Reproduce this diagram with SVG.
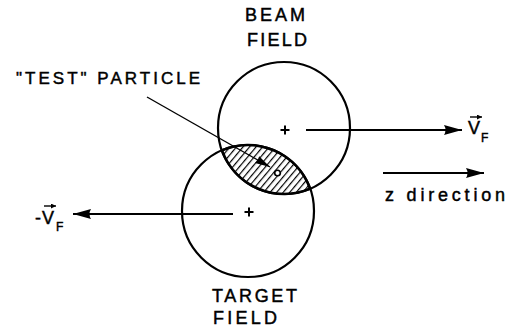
<svg xmlns="http://www.w3.org/2000/svg" width="511" height="331" viewBox="0 0 511 331">
<style>
text{font-family:"Liberation Sans",Arial,sans-serif;fill:#000;stroke:#000;stroke-width:0.45}
.lbl{font-size:18px}
.circ{fill:none;stroke:#000;stroke-width:2.2}
.ln{stroke:#000;stroke-width:1.8;fill:none}
.thin{stroke:#000;stroke-width:1.4;fill:none}
.plus{stroke:#000;stroke-width:2;fill:none}
</style>
<defs>
<marker id="ah" markerUnits="userSpaceOnUse" markerWidth="20" markerHeight="12" refX="18" refY="5.5" orient="auto" viewBox="0 0 20 12">
<path d="M0,0.5 L18,5.5 L0,10.5 Q3,5.5 0,0.5 Z" fill="#000"/>
</marker>
<marker id="ahs" markerUnits="userSpaceOnUse" markerWidth="18" markerHeight="10" refX="15" refY="5" orient="auto" viewBox="0 0 18 10">
<path d="M0,1 L15,5 L0,9 Q2,5 0,1 Z" fill="#000"/>
</marker>
<marker id="vh" markerUnits="userSpaceOnUse" markerWidth="8" markerHeight="6" refX="5" refY="2.5" orient="auto" viewBox="0 0 8 6">
<path d="M0,0 L5,2.5 L0,5 Z" fill="#000"/>
</marker>
<pattern id="hatch" patternUnits="userSpaceOnUse" width="5" height="5" patternTransform="rotate(40)">
<line x1="0" y1="0" x2="0" y2="5" stroke="#000" stroke-width="2.4"/>
</pattern>
</defs>

<g id="overlap">
<path d="M222,150.4 A66,66 0 0,1 310,188.6 A66,66 0 0,1 222,150.4 Z" fill="url(#hatch)" stroke="#000" stroke-width="2.6"/>
</g>

<g id="beam-field">
<circle class="circ" cx="284" cy="128" r="66"/>
<path class="plus" d="M280.5,130 H289.5 M285,125.5 V134.5"/>
<text class="lbl" x="245" y="21" textLength="60" lengthAdjust="spacing">BEAM</text>
<text class="lbl" x="247" y="46" textLength="60" lengthAdjust="spacing">FIELD</text>
</g>

<g id="target-field">
<circle class="circ" cx="248" cy="211" r="66"/>
<path class="plus" d="M244.5,212 H253.5 M249,207.5 V216.5"/>
<text class="lbl" x="212" y="302" textLength="85" lengthAdjust="spacing">TARGET</text>
<text class="lbl" x="213" y="324" textLength="64" lengthAdjust="spacing">FIELD</text>
</g>

<g id="test-particle">
<text style="font-size:17px" x="16" y="84" textLength="184" lengthAdjust="spacing">"TEST" PARTICLE</text>
<circle cx="277.5" cy="173" r="2.8" fill="#fff" stroke="#000" stroke-width="1.6"/>
</g>

<g id="v-right">
<text style="font-size:18px" x="468" y="134">V</text>
<text style="font-size:12px" x="481" y="142">F</text>
<line class="thin" x1="470" y1="117" x2="482" y2="117" marker-end="url(#vh)"/>
</g>

<g id="v-left">
<text style="font-size:18px" x="35" y="224">-</text>
<text style="font-size:18px" x="42" y="224">V</text>
<text style="font-size:12px" x="56" y="231">F</text>
<line class="thin" x1="44" y1="206" x2="56" y2="206" marker-end="url(#vh)"/>
</g>

<g id="z-direction">
<text class="lbl" x="385" y="201" textLength="120" lengthAdjust="spacing">z direction</text>
</g>

<g id="connectors">
<line class="ln" x1="306" y1="130" x2="462" y2="130" marker-end="url(#ah)"/>
<line class="ln" x1="233" y1="214" x2="73" y2="214" marker-end="url(#ah)"/>
<line class="ln" x1="383" y1="173" x2="484" y2="173" marker-end="url(#ah)"/>
<line class="thin" x1="147" y1="97" x2="270" y2="167" marker-end="url(#ahs)"/>
</g>
</svg>
